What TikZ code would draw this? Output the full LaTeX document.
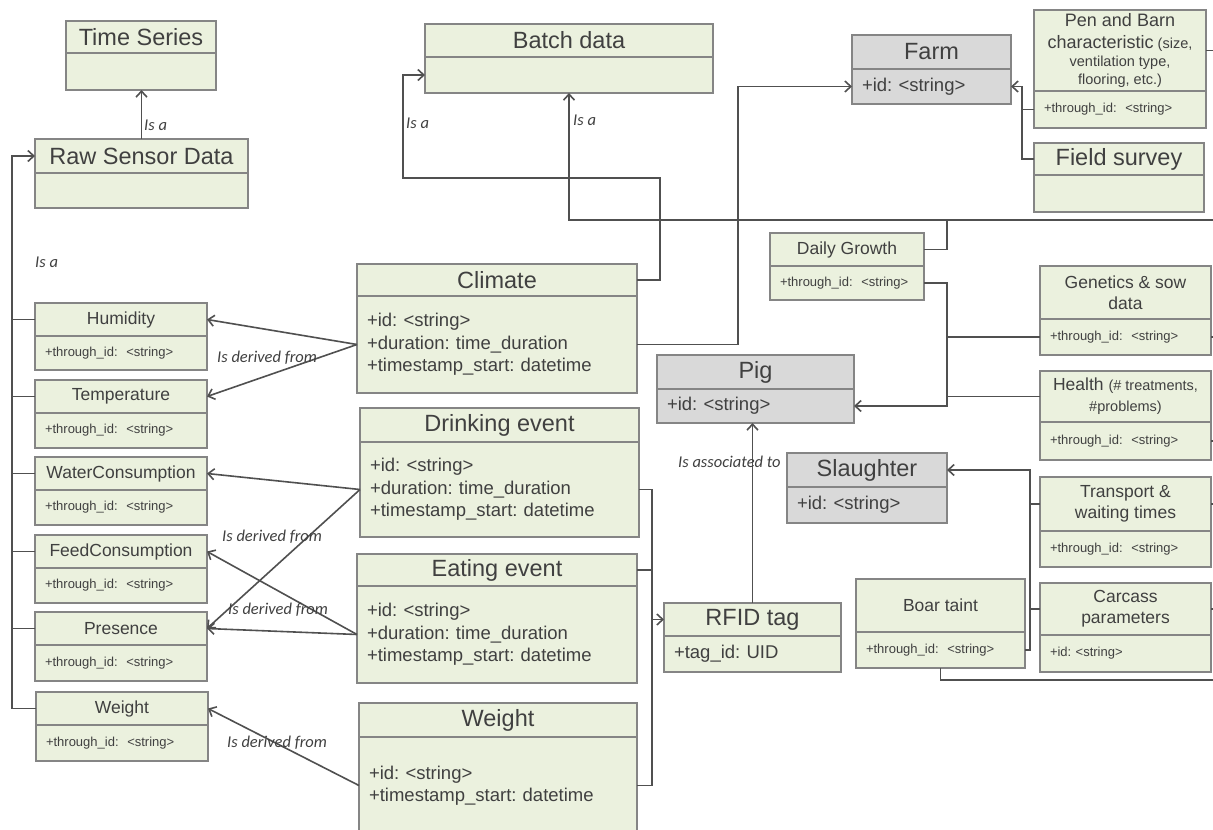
\documentclass[tikz,border=0pt]{standalone}
\usepackage{fontspec}
\setmainfont{Liberation Sans}
\newfontfamily\lblfont{Carlito}
\usetikzlibrary{arrows.meta,calc}
\frenchspacing
\definecolor{boxgreen}{HTML}{EBF1DE}
\definecolor{boxgray}{HTML}{D9D9D9}
\definecolor{edgec}{HTML}{858585}
\definecolor{wirec}{HTML}{505050}
\definecolor{ink}{HTML}{404040}
\tikzset{
 ubase/.style={draw=edgec, line width=1.3pt, outer sep=0pt, inner ysep=0pt, text=ink, rectangle},
 hdr/.style={inner xsep=4pt, align=center},
 bod/.style={inner xsep=10pt, align=left},
 bigf/.style={font=\fontsize{23.5}{28}\selectfont},
 midf/.style={font=\fontsize{17.5}{21}\selectfont},
 attrf/.style={font=\fontsize{18.5}{22.5}\selectfont},
 smallf/.style={font=\fontsize{13}{16}\selectfont},
 Gh/.style={ubase, fill=boxgreen, bigf},
 Gb/.style={ubase, fill=boxgreen, attrf},
 Sh/.style={ubase, fill=boxgreen, midf},
 Sb/.style={ubase, fill=boxgreen, smallf},
 Yh/.style={ubase, fill=boxgray, bigf},
 Yb/.style={ubase, fill=boxgray, attrf},
 wire/.style={draw=wirec, line width=1.6pt},
 arr/.style={wire, -{Straight Barb[length=6pt,width=11pt]}},
 lbl/.style={font=\lblfont\itshape\fontsize{16.5}{20}\selectfont, text=ink, inner sep=0pt, anchor=west},
}
% name, kind, x, y, width, header height, body height, header, body
\newcommand{\ubox}[9]{%
  \pgfmathsetmacro{\ubtw}{#5-20}%
  \node[#2h, hdr, anchor=north west, minimum width=#5pt, minimum height=#6pt] (#1) at (#3,#4) {#8};
  \node[#2b, bod, anchor=north west, minimum width=#5pt, minimum height=#7pt, text width=\ubtw pt] (#1b) at (#1.south west) {#9};
}
\newcommand{\tid}{+through\_id:\ \ <string>}
\newcommand{\smaller}[1]{{\fontsize{14.5}{18}\selectfont #1}}
\begin{document}
\begin{tikzpicture}[x=1pt,y=-1pt]
\useasboundingbox (0,0) rectangle (1213,830);
\fill[white] (0,0) rectangle (1213,830);
\clip (0,0) rectangle (1213,830);

% ---------- boxes ----------
\ubox{ts}{G}{66}{21}{150}{32}{37}{Time Series}{}
\ubox{raw}{G}{35}{139}{213}{34}{35}{Raw Sensor Data}{}
\ubox{batch}{G}{425}{24}{288}{33}{36}{Batch data}{}
\ubox{farm}{Y}{852}{35}{159}{34}{35}{Farm}{+id: <string>}
\ubox{pen}{S}{1034}{10}{172}{81}{37}{{\fontsize{18}{22}\selectfont Pen and Barn}\\[1pt]{\fontsize{18}{22}\selectfont characteristic}\smaller{ (size,}\\[-3pt]\smaller{ventilation type,}\\[-3pt]\smaller{flooring, etc.)}}{\tid}
\ubox{field}{G}{1034}{143}{170}{32}{37}{Field survey}{}
\ubox{dg}{S}{770}{233}{154}{33}{34}{Daily Growth}{\tid}
\ubox{clim}{G}{357}{264}{280}{32}{97}{Climate}{+id: <string>\\+duration: time\_duration\\+timestamp\_start: datetime}
\ubox{drink}{G}{360}{408}{279}{34}{95}{Drinking event}{+id: <string>\\+duration: time\_duration\\+timestamp\_start: datetime}
\ubox{eat}{G}{357}{554}{280}{32}{97}{Eating event}{+id: <string>\\+duration: time\_duration\\+timestamp\_start: datetime}
\ubox{wbig}{G}{359}{703}{278}{34}{97}{Weight}{+id: <string>\\+timestamp\_start: datetime}
\ubox{pig}{Y}{657}{355}{197}{34}{34}{Pig}{+id: <string>}
\ubox{sl}{Y}{787}{453}{160}{34}{36}{Slaughter}{+id: <string>}
\ubox{rfid}{G}{664}{603}{177}{33}{36}{RFID tag}{+tag\_id: UID}
\ubox{gen}{S}{1040}{266}{171}{53}{36}{Genetics \& sow\\data}{\tid}
\ubox{hl}{S}{1040}{371}{171}{51}{38}{Health \smaller{(\# treatments,}\\\smaller{\#problems)}}{\tid}
\ubox{tr}{S}{1040}{477}{171}{54}{36}{Transport \&\\waiting times}{\tid}
\ubox{car}{S}{1040}{583}{171}{52}{37}{Carcass\\parameters}{+id: <string>}
\ubox{boar}{S}{856}{579}{169}{53}{36}{Boar taint}{\tid}
\ubox{hum}{S}{35}{303}{172}{33}{34}{Humidity}{\tid}
\ubox{temp}{S}{35}{380}{172}{33}{35}{Temperature}{\tid}
\ubox{water}{S}{35}{457}{172}{33}{35}{WaterConsumption}{\tid}
\ubox{feed}{S}{35}{535}{172}{33}{35}{FeedConsumption}{\tid}
\ubox{pres}{S}{35}{612}{172}{33}{36}{Presence}{\tid}
\ubox{wsm}{S}{36}{692}{172}{33}{36}{Weight}{\tid}

% ---------- junction coordinates ----------
\coordinate (spine) at (12,0);
\coordinate (bus) at (0,220);
\coordinate (jdg) at (947,0);
\coordinate (jf) at (1022,0);
\coordinate (js) at (1030,0);
\coordinate (jr) at (652,0);
\coordinate (rim) at (1213,0);

% ---------- connectors ----------
\draw[arr] (raw.north) -- (raw.north |- tsb.south);
\draw[arr] (wsm.west) -| (spine |- raw.west) -- (raw.west);
\foreach \n in {hum,temp,water,feed,pres} \draw[wire] (\n.west) -- (spine |- \n.west);

\draw[arr] (climb.west) -- (hum.east);
\draw[arr] (climb.west) -- (temp.east);
\draw[arr] (drinkb.west) -- (water.east);
\draw[arr] (drinkb.west) -- (pres.east);
\draw[arr] (eatb.west) -- (feed.east);
\draw[arr] (eatb.west) -- (pres.east);
\draw[arr] (wbigb.west) -- (wsm.east);

\draw[arr] (clim.east) -| (660,178) -| (403,75) -- (batchb.west);
\draw[arr] (climb.east) -- ++(101,0) |- (farmb.west);

\draw[arr] (dg.east) -| (jdg |- bus) -- (bus -| batchb.south) -- (batchb.south);
\draw[wire] (jdg |- bus) -- (rim |- bus);

\draw[arr] (dgb.east) -| (jdg |- pigb.east) -- (pigb.east);
\draw[wire] (genb.west) -- (genb.west -| jdg);
\draw[wire] (hl.west) -- (hl.west -| jdg);

\draw[arr] (field.west) -| (jf |- farmb.east) -- (farmb.east);
\draw[wire] (penb.west) -- (penb.west -| jf);
\draw[wire] (pen.east) -- (pen.east -| rim);

\draw[arr] (boarb.east) -| (js |- sl.east) -- (sl.east);
\draw[wire] (tr.west) -- (tr.west -| js);
\draw[wire] (car.west) -- (car.west -| js);
\draw[wire] (boarb.south) |- (rim |- 0,680);

\draw[wire] (genb.east) -- (genb.east -| rim);
\draw[wire] (hlb.east) -- (hlb.east -| rim);
\draw[wire] (tr.east) -- (tr.east -| rim);
\draw[wire] (car.east) -- (car.east -| rim);

\draw[wire] (drinkb.east) -| (jr |- wbigb.east) -- (wbigb.east);
\draw[wire] (eat.east) -- (eat.east -| jr);
\draw[arr] (rfid.west -| jr) -- (rfid.west);

\draw[arr] (rfid.north) -- (rfid.north |- pigb.south);

% ---------- labels ----------
\node[lbl] (l1) at (144,125) {Is a};
\node[lbl] (l2) at (35,262) {Is a};
\node[lbl] (l3) at (406,123) {Is a};
\node[lbl] (l4) at (573,120) {Is a};
\node[lbl] (l5) at (217,358) {Is derived from};
\node[lbl] (l6) at (222,537) {Is derived from};
\node[lbl] (l7) at (228,610) {Is derived from};
\node[lbl] (l8) at (227,743) {Is derived from};
\node[lbl] (l9) at (678,462) {Is associated to};
\end{tikzpicture}
\end{document}
